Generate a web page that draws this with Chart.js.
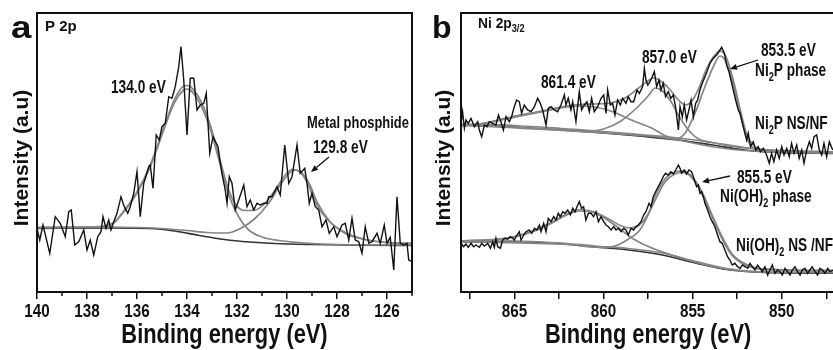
<!DOCTYPE html>
<html><head><meta charset="utf-8">
<script src="https://cdn.jsdelivr.net/npm/chart.js@4.4.0/dist/chart.umd.min.js"></script>
<style>
html,body{margin:0;padding:0;width:833px;height:350px;overflow:hidden;background:#fff;}
canvas{position:absolute;top:0;}
#ca{left:0;}
#cb{left:420px;}
</style></head><body>
<canvas id="ca" width="420" height="350"></canvas>
<canvas id="cb" width="420" height="350"></canvas>
<script>
// ---------- Panel a : P 2p (binding energy eV, intensity a.u.) ----------
const pRaw = [[140.00,63.7],[139.89,52],[139.76,67],[139.49,38.7],[139.27,75.3],[139.07,68.7],[138.87,55.3],[138.73,80.3],[138.63,82],[138.49,47],[138.33,50.3],[138.13,62],[138.00,42],[137.87,52],[137.73,37],[137.57,55.3],[137.44,60.3],[137.36,75.3],[137.24,63.7],[137.13,72],[137.04,62],[136.93,70.3],[136.80,78.7],[136.64,95.3],[136.51,85.3],[136.37,78.7],[136.27,85.3],[136.13,98.7],[136.00,120.3],[135.87,75.3],[135.73,108.7],[135.53,125.3],[135.47,127],[135.36,103.7],[135.23,157],[135.11,152],[135.00,165.3],[134.87,168.7],[134.73,195.3],[134.60,193.7],[134.47,205.3],[134.33,225.3],[134.24,245.3],[134.13,212],[134.00,157],[133.87,213.7],[133.73,213.7],[133.60,182],[133.47,187],[133.33,188.7],[133.23,198.7],[133.09,138.7],[132.96,155.3],[132.76,145.3],[132.60,118],[132.47,102],[132.40,88.7],[132.31,115.3],[132.20,108.7],[132.07,82],[131.93,92],[131.73,107],[131.60,85.3],[131.47,92],[131.33,82],[131.20,88.7],[131.07,87],[130.93,88.7],[130.80,88.7],[130.73,95.3],[130.60,95.3],[130.40,105.3],[130.27,97],[130.09,147],[129.93,108.7],[129.80,115.3],[129.60,147],[129.47,118.7],[129.29,123.7],[129.20,108.7],[129.11,88.7],[129.00,98.7],[128.87,85.3],[128.73,82],[128.60,65.3],[128.44,72],[128.31,58.7],[128.13,65.3],[128.00,55.3],[127.80,67],[127.67,68.7],[127.53,52],[127.40,73.7],[127.27,52],[127.13,50.3],[127.00,38.7],[126.87,65.3],[126.73,48.7],[126.60,50.3],[126.40,58.7],[126.27,48.7],[126.11,67],[126.00,48.7],[125.87,54.7],[125.73,22],[125.60,95.3],[125.47,48.7],[125.33,47],[125.20,48.7],[125.13,32],[125.00,30.3]];
const pBackground = [[140,63.5],[137,64],[135.5,63.5],[134.5,61],[133.5,56.5],[132.5,52.5],[131.5,50],[130.5,48.5],[129,47.5],[127,46.8],[125,46.5]];
const pPeak134 = [[140,64.5],[137.5,65],[136.93,69],[136.53,80],[136.0,99],[135.47,125],[134.93,162],[134.53,188],[134.13,202],[134.0,203],[133.87,202],[133.47,188],[133.07,163],[132.67,127],[132.33,97],[131.93,75],[131.53,62],[131.0,55],[130.33,51.5],[129,48.5],[127,47.2],[125,47]];
const pPeak1298 = [[140,64.5],[137,65],[135,63.5],[134,61.5],[133.2,59.5],[132.4,59],[131.9,63],[131.3,73],[130.7,90],[130.3,106],[129.9,119],[129.7,122],[129.4,119],[129.1,108],[128.8,90],[128.3,71],[127.7,59],[126.9,52.5],[126,49.5],[125,48.7]];
const pEnvelope = [[140,64.5],[137.5,65.5],[136.93,69.5],[136.53,81],[136.0,100],[135.47,127],[134.93,164],[134.53,191],[134.13,206],[134.0,206.5],[133.87,205.5],[133.47,192],[133.07,167],[132.67,131],[132.33,102],[132.07,88],[131.7,81.5],[131.27,82],[130.87,89],[130.47,102],[130.07,117],[129.8,122.5],[129.53,121],[129.2,110],[128.87,90],[128.33,71],[127.67,59.5],[126.87,52.5],[125.93,49.3],[125,48.5]];

// ---------- Panel b : Ni 2p3/2 ----------
const nNi2PRaw = [[868.00,168.7],[867.91,180.3],[867.81,163.7],[867.72,172],[867.59,168.7],[867.44,173.7],[867.25,165.3],[867.06,170.3],[866.97,162],[866.84,155.3],[866.69,167],[866.54,165.3],[866.41,170.3],[866.22,168.7],[866.04,167],[865.90,177],[865.76,170.3],[865.62,162],[865.47,175.3],[865.29,170.3],[865.16,175.3],[865.01,185.3],[864.88,192],[864.73,190.3],[864.60,178.7],[864.45,187],[864.26,182],[864.07,180.3],[863.88,185.3],[863.70,193.7],[863.55,188.7],[863.42,182],[863.23,167],[863.10,183.7],[862.95,185.3],[862.76,182],[862.58,180.3],[862.39,187],[862.20,197],[862.11,187],[861.98,193.7],[861.83,182],[861.73,190.3],[861.55,170.3],[861.36,200.3],[861.23,182],[861.08,187],[860.93,190.3],[860.80,180.3],[860.67,193.7],[860.52,180.3],[860.33,185.3],[860.14,193.7],[859.99,197],[859.86,178.7],[859.77,202],[859.62,187],[859.49,188.7],[859.36,177],[859.21,192],[859.06,187],[858.93,193.7],[858.74,188.7],[858.61,195.3],[858.46,190.3],[858.31,190.3],[858.12,202],[857.99,198.7],[857.81,205.3],[857.71,223.7],[857.62,212],[857.52,207],[857.45,208.7],[857.30,213.7],[857.15,220.3],[857.02,205.3],[856.89,212],[856.78,202],[856.65,208.7],[856.52,195.3],[856.37,200.3],[856.22,193.7],[856.09,197],[855.96,185.3],[855.80,162],[855.71,185.3],[855.58,175.3],[855.47,187],[855.34,172],[855.21,182],[855.09,192],[854.96,175.3],[854.83,188.7],[854.72,192],[854.59,202],[854.46,208.7],[854.31,215.3],[854.16,222],[854.03,228.7],[853.84,233.7],[853.65,237],[853.47,242],[853.37,244.7],[853.22,238.7],[853.09,227],[852.96,220.3],[852.85,212],[852.72,202],[852.59,192],[852.44,182],[852.34,178.7],[852.16,165.3],[851.97,152],[851.88,158.7],[851.75,145.3],[851.60,150.3],[851.45,142],[851.32,145.3],[851.20,140.3],[851.03,143.7],[850.85,137],[850.70,128.7],[850.57,138.7],[850.44,130.3],[850.29,142],[850.14,133.7],[850.00,145.3],[849.87,137],[849.72,143.7],[849.58,135.3],[849.45,148.7],[849.31,138.7],[849.16,147],[849.02,133.7],[848.88,142],[848.75,128.7],[848.60,142],[848.45,150.3],[848.32,143.7],[848.19,155.3],[848.04,157],[847.89,142],[847.76,137],[847.63,148.7],[847.48,135.3],[847.33,150.3],[847.14,142]];
const nNi2PBg = [[868,167],[865,165],[862,161.5],[860,159],[857.7,155.5],[855.8,152],[853.9,147],[852.1,142],[850.2,139.5],[847,138.5]];
const nNi2PBg2 = [[868,168],[865,166.5],[862,163],[860,160.5],[857.7,157],[855.8,154],[853.9,149.5],[852.1,144.5],[850.2,141],[847,140]];
const nNi2PSat = [[868,166],[867.4,166.5],[865.2,174],[863.5,180],[862.4,184],[861.4,186],[860.5,185],[859.6,181],[858.3,171],[857.3,164],[856.5,156],[855,149],[853,143],[851,140.5],[847,139.5]];
const nNi2P857 = [[868,167.5],[862,162],[860.8,161],[860,163],[859.02,171],[858.09,185],[857.5,196],[857.1,204],[856.7,201],[856.2,190],[855.8,177],[855.24,162],[854.68,153],[853.93,149.5],[852.1,144],[847,140]];
const nNi2P853 = [[868,167],[857.5,156],[856.5,154],[855.99,153],[855.43,158.7],[854.87,178.7],[854.31,205.3],[853.84,225.3],[853.47,236],[853.19,232],[852.72,207],[852.25,172],[851.97,154],[851.5,143],[850.5,140],[847,139]];
const nNi2PEnv = [[868,167],[867,168],[865.2,175],[863.5,181],[862.4,185],[861.4,187.5],[860.5,188],[859.6,189],[858.8,194],[858.1,203],[857.6,210],[857.2,214],[856.8,211],[856.3,203],[855.8,192],[855.4,187],[855.0,192],[854.6,206],[854.2,224],[853.84,235],[853.47,241],[853.15,236],[852.72,212],[852.3,180],[851.97,158],[851.6,147],[851,142],[850,140.5],[847,139.5]];

const nOHRaw = [[868.00,48.7],[867.85,45.3],[867.72,48],[867.59,44.7],[867.44,48.7],[867.29,45.3],[867.16,47],[866.97,44.7],[866.84,48.7],[866.69,46],[866.50,48.7],[866.35,43.7],[866.22,50.3],[866.13,44.7],[866.04,53.7],[865.94,45.3],[865.79,43.7],[865.66,52],[865.53,53.7],[865.38,52.7],[865.23,55.3],[865.10,53.7],[865.01,52],[864.86,57],[864.73,60.3],[864.63,52],[864.48,57],[864.35,60.3],[864.17,62],[864.03,58.7],[863.88,63.7],[863.74,62],[863.60,67],[863.51,60.3],[863.36,68.7],[863.23,60.3],[863.10,73.7],[862.95,70.3],[862.80,75.3],[862.67,72],[862.54,78.7],[862.43,75.3],[862.29,80.3],[862.16,78.7],[862.01,82],[861.86,77],[861.73,83.7],[861.60,80.3],[861.49,85.3],[861.36,90.3],[861.23,83.7],[861.12,85.3],[860.99,72],[860.85,78.7],[860.70,78.7],[860.56,75.3],[860.42,80.3],[860.29,70.3],[860.14,75.3],[859.99,70.3],[859.86,67],[859.73,65.3],[859.58,62],[859.43,65.3],[859.30,62],[859.17,63.7],[859.02,60.3],[858.87,63.7],[858.74,62],[858.61,57],[858.46,63.7],[858.31,62],[858.18,65.3],[858.05,67],[857.90,70.3],[857.75,77],[857.62,80.3],[857.45,88.7],[857.34,85.3],[857.21,95.3],[857.08,100.3],[856.93,105.3],[856.78,110.3],[856.65,115.3],[856.52,118.7],[856.37,117],[856.22,120.3],[856.09,118],[855.95,122],[855.80,127],[855.71,123.7],[855.62,118.7],[855.47,122],[855.34,118],[855.21,122],[855.06,120.3],[854.96,115.3],[854.87,110.3],[854.78,105.3],[854.68,107],[854.59,98.7],[854.50,100.3],[854.40,95.3],[854.31,88.7],[854.16,82],[854.03,75.3],[853.90,70.3],[853.75,65.3],[853.60,57],[853.47,50.3],[853.34,48.7],[853.19,42],[853.04,35.3],[852.91,32],[852.78,27],[852.63,28.7],[852.48,25.3],[852.34,23.7],[852.21,27],[852.06,25.3],[851.91,23.7],[851.78,28.7],[851.65,25.3],[851.50,22],[851.35,27],[851.22,23.7],[851.09,20.3],[850.94,25.3],[850.79,17],[850.66,22],[850.53,27],[850.38,18.7],[850.23,22],[850.10,20.3],[849.97,17],[849.82,23.7],[849.67,20.3],[849.54,17],[849.41,22],[849.26,25.3],[849.11,20.3],[848.97,17],[848.85,22],[848.70,23.7],[848.55,18.7],[848.42,22],[848.29,25.3],[848.13,20.3],[847.99,17],[847.86,23.7],[847.72,22],[847.57,18.7],[847.42,23.7],[847.29,20.3],[847.11,22]];
const nOHBg = [[868,50.3],[865.2,50.5],[862.4,48.3],[860.5,45],[858.6,42],[856.7,37],[854.8,28.7],[852.9,22],[851,19.5],[847,18.7]];
const nOHBg2 = [[868,51],[865.2,51],[862.4,49],[860.5,46],[858.6,43.5],[856.7,39],[854.8,30.5],[852.9,23],[851,20],[847,19.5]];
const nOHSat = [[868,51],[866,52.5],[865,55],[864,60],[863,68],[862.2,76],[861.3,81],[860.5,79],[859.7,71],[859,62],[858.5,55],[857.8,48],[857,42],[856,36],[855,30.5],[854,26],[853,22.5],[851,20],[847,19.5]];
const nOHMain = [[868,50.3],[862,47.5],[860.5,45],[859.8,44.5],[859.2,47],[858.6,53],[858,61],[857.7,70],[857.1,92],[856.55,110],[856,118],[855.5,119.5],[855.06,114.5],[854.5,99],[853.93,76],[853.37,54],[852.81,37],[852.25,28.7],[851.5,23.7],[850.2,22],[847,21.3]];
const nOHEnv = [[868,51],[866,53],[865,55.5],[864,61],[863,69],[862.2,77],[861.3,82.5],[860.5,80],[859.7,73],[859,66],[858.5,64],[858,67],[857.5,78],[857.1,96],[856.55,113],[856,120],[855.5,121],[855.06,116],[854.5,101],[853.93,78],[853.37,56],[852.81,38.5],[852.25,30],[851.5,24.5],[850.2,22.5],[847,21.5]];

const SANS = '"Liberation Sans", Arial, sans-serif';
const SX = 0.76;           // horizontal squeeze of the original figure's lettering
const GRAY = '#858585';
const INK = '#111';

const toPts = arr => arr.map(p => ({x: p[0], y: p[1]}));
const rawDs = arr => ({data: toPts(arr), borderColor: INK, borderWidth: 1.4, tension: 0, pointRadius: 0});
const fitDs = (arr, color, w) => ({data: toPts(arr), borderColor: color || GRAY, borderWidth: w || 1.7, cubicInterpolationMode: 'monotone', pointRadius: 0});

// draw text squeezed horizontally; align: 'left' | 'center'
function sqText(ctx, str, x, y, size, align, sx) {
  const k = sx === undefined ? SX : sx;
  ctx.font = 'bold ' + size + 'px ' + SANS;
  const w = ctx.measureText(str).width * k;
  ctx.save();
  ctx.translate(align === 'center' ? x - w / 2 : x, y);
  ctx.scale(k, 1);
  ctx.fillStyle = INK; ctx.textAlign = 'left'; ctx.textBaseline = 'alphabetic';
  ctx.fillText(str, 0, 0);
  ctx.restore();
  return w;
}
function drawRich(ctx, t) {
  let x = t.x;
  for (const p of t.parts) {
    const s = p.sub ? Math.round(t.size * 0.68) : t.size;
    x += sqText(ctx, p.t, x, t.y + (p.sub ? t.size * 0.28 : 0), s, 'left', t.sx);
  }
}
function arrow(ctx, a) {
  const [x1, y1, x2, y2] = a;
  ctx.strokeStyle = INK; ctx.fillStyle = INK; ctx.lineWidth = 1.3;
  const ang = Math.atan2(y2 - y1, x2 - x1);
  const L = 7, W = 3;
  const bx = x2 - L * Math.cos(ang), by = y2 - L * Math.sin(ang);
  ctx.beginPath(); ctx.moveTo(x1, y1); ctx.lineTo(bx, by); ctx.stroke();
  ctx.beginPath();
  ctx.moveTo(x2, y2);
  ctx.lineTo(bx + W * Math.sin(ang), by - W * Math.cos(ang));
  ctx.lineTo(bx - W * Math.sin(ang), by + W * Math.cos(ang));
  ctx.closePath(); ctx.fill();
}

const deco = {
  id: 'deco',
  afterDraw(chart, args, o) {
    const {ctx, chartArea: a} = chart;
    const xs = chart.scales.x;
    ctx.save();
    ctx.strokeStyle = INK; ctx.lineWidth = 2;
    ctx.strokeRect(a.left, a.top, a.right - a.left, a.bottom - a.top);
    // minor ticks and tick labels from the library's own scale ticks
    ctx.lineWidth = 1.5;
    for (const t of xs.ticks) {
      const px = xs.getPixelForValue(t.value);
      const major = Math.abs(t.value % o.labelEvery) < 1e-6;
      if (!major && o.minorLen) {
        ctx.beginPath(); ctx.moveTo(px, a.bottom); ctx.lineTo(px, a.bottom + o.minorLen); ctx.stroke();
      }
      if (major) sqText(ctx, String(t.value), px, 317, 19, 'center', 0.8);
    }
    // axis title
    sqText(ctx, 'Binding energy (eV)', (a.left + a.right) / 2, 342.5, 28, 'center', 0.78);
    for (const t of o.texts) drawRich(ctx, t);
    for (const ar of o.arrows) arrow(ctx, ar);
    // panel letter
    sqText(ctx, o.letter[0], o.letter[1], o.letter[2], 32, 'left', o.letter[3]);
    // y title
    ctx.translate(o.ytitle[0], o.ytitle[1]);
    ctx.rotate(-Math.PI / 2);
    ctx.fillStyle = INK;
    ctx.font = 'bold 21px ' + SANS; ctx.textAlign = 'center'; ctx.textBaseline = 'middle';
    ctx.fillText('Intensity (a.u)', 0, 0);
    ctx.restore();
  }
};

function xAxis(min, max, step, tickColorFn) {
  return {
    type: 'linear', reverse: true, min, max,
    border: {display: false},
    grid: {display: true, drawOnChartArea: false, drawTicks: true, tickLength: 7, color: tickColorFn, lineWidth: 1.5},
    ticks: {display: false, stepSize: step, includeBounds: false, autoSkip: false},
    title: {display: false},
    afterFit: s => { s.height = 58; }
  };
}

new Chart(document.getElementById('ca'), {
  type: 'line',
  data: {datasets: [
    rawDs(pRaw),
    fitDs(pEnvelope),
    fitDs(pPeak134),
    fitDs(pPeak1298),
    fitDs(pBackground, '#333', 1.6)
  ]},
  options: {
    responsive: false, animation: false, devicePixelRatio: 1,
    layout: {padding: {left: 37, right: 8, top: 13, bottom: 0}},
    plugins: {legend: {display: false}, tooltip: {enabled: false},
      deco: {
        minorLen: 4, labelEvery: 2,
        letter: ['a', 11, 38, 1.15],
        ytitle: [22, 158],
        texts: [
          {x: 45, y: 31, size: 15, sx: 1, parts: [{t: 'P 2p'}]},
          {x: 111, y: 93, size: 18, parts: [{t: '134.0 eV'}]},
          {x: 307, y: 128, size: 17, parts: [{t: 'Metal phosphide'}]},
          {x: 313, y: 153, size: 18, parts: [{t: '129.8 eV'}]}
        ],
        arrows: [[329, 157, 311, 172]]
      }},
    scales: {
      x: xAxis(125, 140, 1, c => (c.tick && c.tick.value % 2 !== 0) ? 'rgba(0,0,0,0)' : INK),
      y: {display: false, min: 0, max: 279}
    }
  },
  plugins: [deco]
});

new Chart(document.getElementById('cb'), {
  type: 'line',
  data: {datasets: [
    rawDs(nNi2PRaw),
    rawDs(nOHRaw),
    fitDs(nNi2PEnv),
    fitDs(nNi2P853),
    fitDs(nNi2P857),
    fitDs(nNi2PSat),
    fitDs(nNi2PBg2),
    fitDs(nNi2PBg, '#333', 1.6),
    fitDs(nOHEnv),
    fitDs(nOHMain),
    fitDs(nOHSat),
    fitDs(nOHBg2),
    fitDs(nOHBg, '#333', 1.6)
  ]},
  options: {
    responsive: false, animation: false, devicePixelRatio: 1,
    layout: {padding: {left: 41, right: 4.8, top: 13, bottom: 0}},
    plugins: {legend: {display: false}, tooltip: {enabled: false},
      deco: {
        minorLen: 0, labelEvery: 5,
        letter: ['b', 12, 38, 1],
        ytitle: [24, 158],
        texts: [
          {x: 58, y: 28, size: 15, sx: 0.92, parts: [{t: 'Ni 2p'}, {t: '3/2', sub: true}]},
          {x: 121, y: 88, size: 18, parts: [{t: '861.4 eV'}]},
          {x: 222, y: 63, size: 18, parts: [{t: '857.0 eV'}]},
          {x: 341, y: 56, size: 18, parts: [{t: '853.5 eV'}]},
          {x: 335, y: 76, size: 18, parts: [{t: 'Ni'}, {t: '2', sub: true}, {t: 'P phase'}]},
          {x: 335, y: 129, size: 18, parts: [{t: 'Ni'}, {t: '2', sub: true}, {t: 'P NS/NF'}]},
          {x: 317, y: 183, size: 18, parts: [{t: '855.5 eV'}]},
          {x: 300, y: 202, size: 18, parts: [{t: 'Ni(OH)'}, {t: '2', sub: true}, {t: ' phase'}]},
          {x: 316, y: 251, size: 18, parts: [{t: 'Ni(OH)'}, {t: '2', sub: true}, {t: ' NS /NF'}]}
        ],
        arrows: [[338, 60, 310, 69], [310, 176, 282, 182]]
      }},
    scales: {
      x: xAxis(847, 868, 2.5, INK),
      y: {display: false, min: 0, max: 279}
    }
  },
  plugins: [deco]
});
</script>
</body></html>
